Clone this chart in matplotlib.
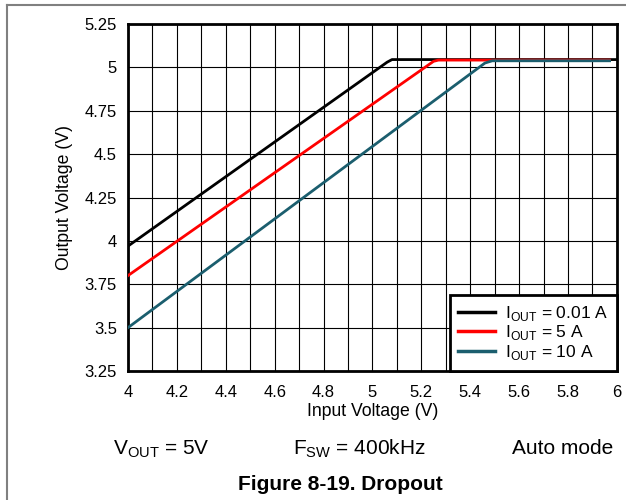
import numpy as np
import matplotlib.pyplot as plt
from matplotlib.lines import Line2D

plt.rcParams['font.family'] = ['Liberation Sans', 'DejaVu Sans']
plt.rcParams['mathtext.fontset'] = 'custom'
plt.rcParams['mathtext.rm'] = 'Liberation Sans'

# Dropout curves
vin_001 = [4.0, 5.06, 5.08, 6.0]
vout_001 = [3.97, 5.03, 5.045, 5.045]
vin_5 = [4.0, 5.25, 5.27, 5.97]
vout_5 = [3.80, 5.035, 5.042, 5.042]
vin_10 = [4.0, 5.46, 5.49, 5.97]
vout_10 = [3.50, 5.025, 5.038, 5.038]

labels = ['I$_{\\mathrm{OUT}}$ = 0.01 A', 'I$_{\\mathrm{OUT}}$ = 5 A', 'I$_{\\mathrm{OUT}}$ = 10 A']
colors = ['black', 'red', '#1b5e6e']

xticks = np.arange(4.0, 6.01, 0.2)
xtick_labels = ['4', '4.2', '4.4', '4.6', '4.8', '5', '5.2', '5.4', '5.6', '5.8', '6']
yticks = [3.25, 3.5, 3.75, 4.0, 4.25, 4.5, 4.75, 5.0, 5.25]
ytick_labels = ['3.25', '3.5', '3.75', '4', '4.25', '4.5', '4.75', '5', '5.25']

fig = plt.figure(figsize=(6.26, 5.0), dpi=100)
ax = fig.add_axes([0.2045, 0.258, 0.781, 0.694])

ax.plot(vin_001, vout_001, color=colors[0], lw=2, label=labels[0], zorder=3)
ax.plot(vin_5, vout_5, color=colors[1], lw=2, label=labels[1], zorder=3)
ax.plot(vin_10, vout_10, color=colors[2], lw=2, label=labels[2], zorder=4)

ax.set_xlim(4, 6)
ax.set_ylim(3.25, 5.25)
ax.set_xticks(xticks)
ax.set_xticklabels(xtick_labels)
ax.set_yticks(yticks)
ax.set_yticklabels(ytick_labels)
ax.set_xticks(np.arange(4.1, 6.0, 0.2), minor=True)
ax.grid(True, which='both', color='black', lw=0.8)
ax.tick_params(which='both', length=0, labelsize=12)
ax.tick_params(axis='x', pad=10)
ax.tick_params(axis='y', pad=8)
for s in ax.spines.values():
    s.set_linewidth(2)

ax.set_xlabel('Input Voltage (V)', fontsize=12.7, labelpad=2)
ax.set_ylabel('Output Voltage (V)', fontsize=12.7, labelpad=8)

handles = [Line2D([0], [0], color=c, lw=2.5) for c in colors]
leg = ax.legend(handles, labels, loc='lower right', fontsize=12.5, frameon=True,
                fancybox=False, framealpha=1, borderaxespad=0, handlelength=2.1,
                handletextpad=0.6, labelspacing=0.05, borderpad=0.5)
leg.get_frame().set_edgecolor('black')
leg.get_frame().set_linewidth(2)

fig.text(0.1805, 0.092, 'V$_{\\mathrm{OUT}}$ = 5V', fontsize=15, ha='left', va='baseline')
fig.text(0.468, 0.092, 'F$_{\\mathrm{SW}}$ = 400kHz', fontsize=15, ha='left', va='baseline')
fig.text(0.818, 0.092, 'Auto mode', fontsize=15, ha='left', va='baseline')
fig.text(0.543, 0.02, 'Figure 8-19. Dropout', fontsize=15, fontweight='bold',
         ha='center', va='baseline')

# page frame
fig.add_artist(Line2D([0.011, 1.0], [0.99, 0.99], color='#808080', lw=1.5))
fig.add_artist(Line2D([0.011, 0.011], [0.0, 0.99], color='#808080', lw=1.5))

fig.savefig('out.png', dpi=100)
